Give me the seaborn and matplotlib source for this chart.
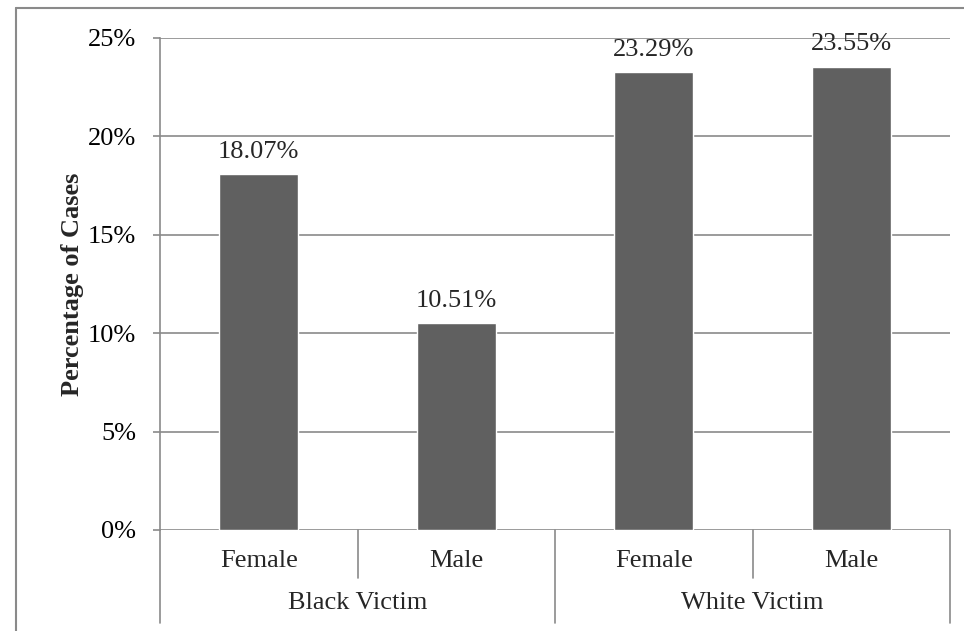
import pandas as pd
import matplotlib.pyplot as plt
import seaborn as sns
from matplotlib.lines import Line2D
from matplotlib.ticker import FuncFormatter

# --- Data ---
groups = ['Black Victim', 'White Victim']
sexes = ['Female', 'Male']
cells = ['Black Victim Female', 'Black Victim Male', 'White Victim Female', 'White Victim Male']
percent = [18.07, 10.51, 23.29, 23.55]
y_ticks = [0, 5, 10, 15, 20, 25]

BAR_COLOR = '#606060'
LINE_COLOR = '#8a8a8a'
FONT = ['Liberation Serif', 'DejaVu Serif']
FS = 19

sns.set_theme(style='white')
plt.rcParams['font.family'] = FONT

df = pd.DataFrame({'cell': cells, 'percent': percent})

fig = plt.figure(figsize=(9.64, 6.31), dpi=100)
ax = fig.add_axes([160 / 964, 1 - 530 / 631, 790 / 964, 492 / 631])

sns.barplot(data=df, x='cell', y='percent', order=cells, color=BAR_COLOR,
            saturation=1, width=0.4, ax=ax, zorder=3)

ax.set_ylim(0, 25)
ax.set_xlim(-0.5, 3.5)
ax.set_yticks(y_ticks)
ax.yaxis.set_major_formatter(FuncFormatter(lambda v, _: f'{v:.0f}%'))
ax.yaxis.grid(True, color=LINE_COLOR, linewidth=1.2, zorder=0)
ax.tick_params(axis='y', left=True, length=5, width=1.2, color=LINE_COLOR,
               labelsize=FS, pad=12, labelcolor='black')
ax.tick_params(axis='x', bottom=False, labelbottom=False)
ax.set_xlabel('')
ax.set_ylabel('Percentage of Cases', fontsize=FS, fontweight='bold', labelpad=3)

for side in ['top', 'right', 'bottom']:
    ax.spines[side].set_visible(False)
ax.spines['left'].set_color(LINE_COLOR)
ax.spines['left'].set_linewidth(1.2)

# value labels
for i, v in enumerate(percent):
    ax.annotate(f'{v:.2f}%', (i, v), xytext=(0, 8), textcoords='offset points',
                ha='center', va='bottom', fontsize=FS)

# hierarchical category axis below the plot
trans = ax.get_xaxis_transform()
for xpos in [-0.5, 1.5, 3.5]:
    ax.add_line(Line2D([xpos, xpos], [0, -0.189], transform=trans, color=LINE_COLOR,
                       linewidth=1.2, clip_on=False))
for xpos in [0.5, 2.5]:
    ax.add_line(Line2D([xpos, xpos], [0, -0.0976], transform=trans, color=LINE_COLOR,
                       linewidth=1.2, clip_on=False))
for i, cell in enumerate(cells):
    ax.text(i, -0.063, sexes[i % 2], transform=trans, ha='center', va='center', fontsize=FS)
for j, g in enumerate(groups):
    ax.text(2 * j + 0.5, -0.148, g, transform=trans, ha='center', va='center', fontsize=FS)

# outer frame of the embedded chart
y_top = 1 - 8 / 631
x_left = 16 / 964
fig.add_artist(Line2D([x_left, 1], [y_top, y_top], color=LINE_COLOR, linewidth=1.5))
fig.add_artist(Line2D([x_left, x_left], [0, y_top], color=LINE_COLOR, linewidth=1.5))

fig.savefig('out.png', dpi=100, facecolor='white')
